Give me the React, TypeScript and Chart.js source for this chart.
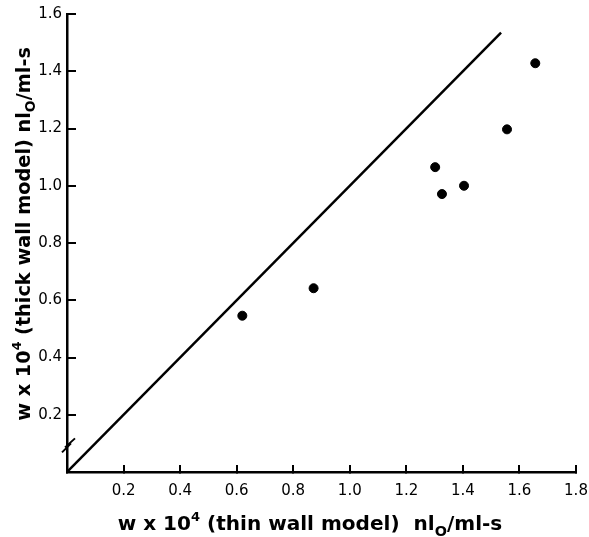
import React, { useEffect, useRef } from "react";
import { Chart, registerables } from "chart.js";

Chart.register(...registerables);

// Data
const thinWall = [0.62, 0.872, 1.302, 1.326, 1.404, 1.556, 1.656];
const thickWall = [0.546, 0.642, 1.065, 0.971, 1.0, 1.197, 1.428];
const identityLine = [0, 1.535];
const xTickLabels = ["0.2", "0.4", "0.6", "0.8", "1.0", "1.2", "1.4", "1.6", "1.8"];
const yTickLabels = ["0.2", "0.4", "0.6", "0.8", "1.0", "1.2", "1.4", "1.6"];
const breakValue = 0.1;

const FONT = '"DejaVu Sans", "Liberation Sans", sans-serif';
const X_TITLE_WIDTH = 385;
const Y_TITLE_WIDTH = 374;

type Seg = { text: string; rel: number; dy?: number; w?: number };

const xSegs: Seg[] = [
  { text: "w x 10", rel: 1 },
  { text: "4", rel: 0.65, dy: -0.45 },
  { text: " (thin wall model)  nl", rel: 1 },
  { text: "O", rel: 0.72, dy: 0.28 },
  { text: "/ml-s", rel: 1 },
];
const ySegs: Seg[] = [
  { text: "w x 10", rel: 1 },
  { text: "4", rel: 0.65, dy: -0.45 },
  { text: " (thick wall model) nl", rel: 1 },
  { text: "O", rel: 0.72, dy: 0.28 },
  { text: "/ml-s", rel: 1 },
];

function measure(ctx: CanvasRenderingContext2D, segs: Seg[], size: number) {
  let total = 0;
  for (const s of segs) {
    ctx.font = `bold ${s.rel * size}px ${FONT}`;
    s.w = ctx.measureText(s.text).width;
    total += s.w;
  }
  return total;
}

function drawRich(ctx: CanvasRenderingContext2D, segs: Seg[], size: number, cx: number, baseline: number) {
  const total = measure(ctx, segs, size);
  let x = cx - total / 2;
  ctx.textAlign = "left";
  ctx.textBaseline = "alphabetic";
  ctx.fillStyle = "#000";
  for (const s of segs) {
    ctx.font = `bold ${s.rel * size}px ${FONT}`;
    ctx.fillText(s.text, x, baseline + (s.dy || 0) * size);
    x += s.w || 0;
  }
}

const titlesPlugin = {
  id: "richTitles",
  afterDraw(chart: any) {
    const ctx: CanvasRenderingContext2D = chart.ctx;
    ctx.save();
    const xSize = (18 * X_TITLE_WIDTH) / measure(ctx, xSegs, 18);
    drawRich(ctx, xSegs, xSize, 310, 530);
    ctx.restore();

    ctx.save();
    const ySize = (18 * Y_TITLE_WIDTH) / measure(ctx, ySegs, 18);
    ctx.translate(30, 234);
    ctx.rotate(-Math.PI / 2);
    drawRich(ctx, ySegs, ySize, 0, 0);
    ctx.restore();

    // axis break marks on the y axis
    const yScale = chart.scales.y;
    const xa = chart.chartArea.left;
    const yb = yScale.getPixelForValue(breakValue) + 2;
    ctx.save();
    ctx.strokeStyle = "#000";
    ctx.lineWidth = 2;
    ctx.beginPath();
    ctx.moveTo(xa - 5, yb + 7);
    ctx.lineTo(xa + 4, yb - 2);
    ctx.moveTo(xa - 2, yb + 2);
    ctx.lineTo(xa + 8, yb - 7);
    ctx.stroke();
    ctx.restore();
  },
};

export default function App() {
  const ref = useRef<HTMLCanvasElement | null>(null);

  useEffect(() => {
    if (!ref.current) return;
    const tickFont = { family: FONT, size: 15 };
    const chart = new Chart(ref.current, {
      type: "scatter",
      data: {
        datasets: [
          {
            type: "line",
            data: identityLine.map((v) => ({ x: v, y: v })),
            borderColor: "#000",
            borderWidth: 2.5,
            pointRadius: 0,
            fill: false,
          } as any,
          {
            type: "scatter",
            data: thinWall.map((x, i) => ({ x, y: thickWall[i] })),
            backgroundColor: "#000",
            borderColor: "#000",
            pointRadius: 4.5,
            pointHoverRadius: 4.5,
          },
        ],
      },
      options: {
        responsive: false,
        animation: false,
        layout: { padding: { top: 14, right: 13, left: 0, bottom: 0 } },
        plugins: { legend: { display: false }, tooltip: { enabled: false } },
        scales: {
          x: {
            type: "linear",
            min: 0,
            max: 1.8,
            ticks: {
              stepSize: 0.2,
              autoSkip: false,
              maxRotation: 0,
              color: "#000",
              font: tickFont,
              padding: 17,
              callback: (v: any) => {
                const s = Number(v).toFixed(1);
                return xTickLabels.includes(s) ? s : "";
              },
            },
            grid: {
              drawOnChartArea: false,
              drawTicks: true,
              tickLength: -7,
              color: "#000",
              lineWidth: 2,
            },
            border: { color: "#000", width: 2.5 },
            afterFit: (s: any) => {
              s.height = 65;
              s.paddingLeft = 0;
              s.paddingRight = 0;
            },
          },
          y: {
            type: "linear",
            min: 0,
            max: 1.6,
            ticks: {
              stepSize: 0.2,
              autoSkip: false,
              color: "#000",
              font: tickFont,
              padding: 14,
              callback: (v: any) => {
                const s = Number(v).toFixed(1);
                return yTickLabels.includes(s) ? s : "";
              },
            },
            grid: {
              drawOnChartArea: false,
              drawTicks: true,
              tickLength: -9,
              color: "#000",
              lineWidth: 2,
            },
            border: { color: "#000", width: 2.5 },
            afterFit: (s: any) => {
              s.width = 67;
              s.paddingTop = 0;
              s.paddingBottom = 0;
            },
          },
        },
      },
      plugins: [titlesPlugin],
    });
    return () => chart.destroy();
  }, []);

  return (
    <div style={{ position: "fixed", left: 0, top: 0, width: 589, height: 537, background: "#fff" }}>
      <canvas ref={ref} width={589} height={537} style={{ width: 589, height: 537 }} />
    </div>
  );
}
